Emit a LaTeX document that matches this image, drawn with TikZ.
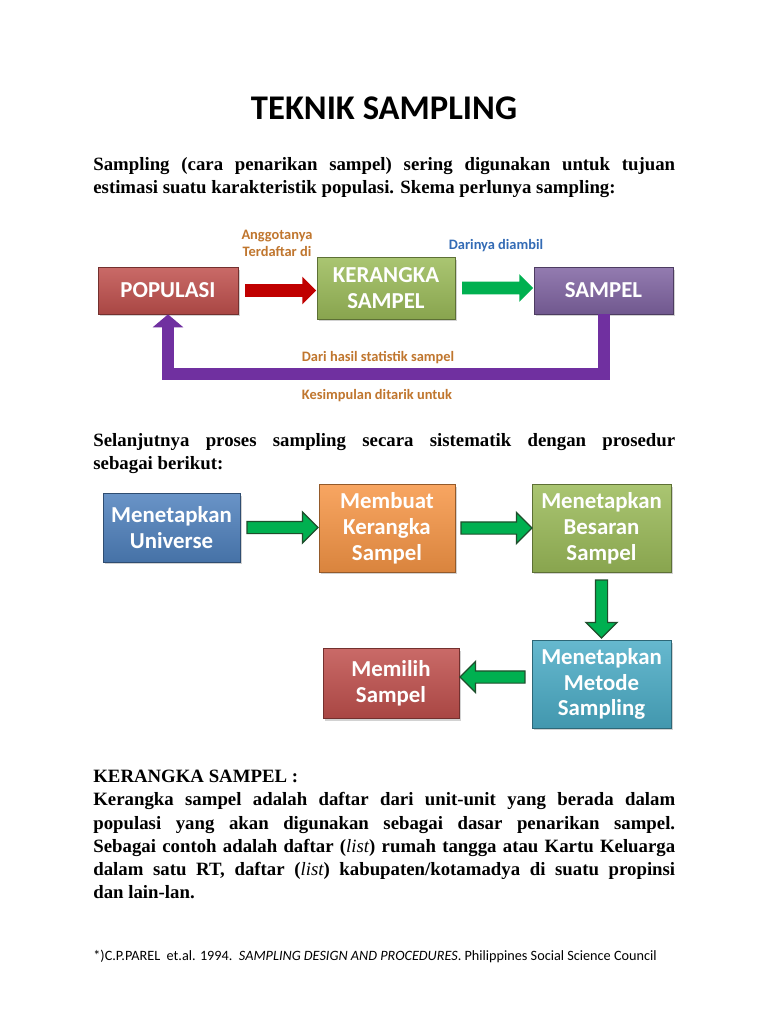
\documentclass[tikz,border=0pt]{standalone}
\usepackage{fontspec}
\setmainfont{Liberation Serif}
\newfontfamily\calibri{Carlito}
\usetikzlibrary{shapes.arrows,shadows,arrows.meta}

\definecolor{popred}{HTML}{C0504D}
\definecolor{kergreen}{HTML}{9BBB59}
\definecolor{sampurple}{HTML}{8064A2}
\definecolor{univblue}{HTML}{4F81BD}
\definecolor{kerorange}{HTML}{F79646}
\definecolor{metcyan}{HTML}{4BACC6}
\definecolor{arrred}{HTML}{C00000}
\definecolor{arrgreen}{HTML}{00B050}
\definecolor{arrline}{HTML}{1F4E2C}
\definecolor{fbpurple}{HTML}{7030A0}
\definecolor{lblbrown}{HTML}{C0762E}
\definecolor{lblblue}{HTML}{336BB5}

\newcommand\boxfont{\calibri\bfseries\fontsize{13}{14.7}\selectfont}
\newcommand\bodyfont{\bfseries\fontsize{10.7}{13.2}\selectfont\hyphenpenalty=10000\exhyphenpenalty=10000}

\tikzset{
  box/.style={rectangle, draw=#1!60!black, line width=0.4pt,
    top color=#1!85!white, bottom color=#1!88!black,
    text=white, align=center, inner sep=0pt, font=\boxfont,
    drop shadow={shadow xshift=0.04cm, shadow yshift=-0.05cm, opacity=0.35}},
  blkarrow/.style={single arrow, fill=#1, draw=none, inner xsep=0pt,
    inner ysep=0.12cm, single arrow head extend=0.15cm,
    minimum height=1.42cm, sloped, allow upside down},
  proarrow/.style={single arrow, fill=arrgreen, draw=arrline, line width=0.7pt,
    inner xsep=0pt, inner ysep=0.11cm, single arrow head extend=0.19cm,
    sloped, allow upside down},
  fback/.style={draw=fbpurple, line width=0.24cm, line join=miter,
    -{Triangle[width=0.6cm, length=0.26cm]}},
  lbl/.style={font=\calibri\bfseries\fontsize{8.2}{9.6}\selectfont,
    align=center, inner sep=0pt},
  para/.style={text width=11.64cm, align=justify, inner sep=0pt, font=\bodyfont},
}

\begin{document}
\begin{tikzpicture}[x=0.02cm, y=-0.02cm]
  \useasboundingbox (0,0) rectangle (768,1024);
  \fill[white] (0,0) rectangle (768,1024);

  % title and intro
  \node[font=\calibri\bfseries\fontsize{19.7}{23}\selectfont] (title) at (384,108) {TEKNIK SAMPLING};
  \node[para, anchor=north west] (intro) at (93,157)
    {Sampling (cara penarikan sampel) sering digunakan untuk tujuan\linebreak
     estimasi suatu karakteristik populasi. Skema perlunya sampling:};

  % first scheme
  \node[box=popred, minimum width=2.8cm, minimum height=0.94cm] (pop) at (168,290.5) {POPULASI};
  \node[box=kergreen, minimum width=2.76cm, minimum height=1.24cm] (ker) at (386,288) {KERANGKA\\SAMPEL};
  \node[box=sampurple, minimum width=2.78cm, minimum height=0.94cm] (sam) at (603.5,290.5) {SAMPEL};

  \path (pop.east) -- (pop.east -| ker.west) node[midway, blkarrow=arrred] (a1) {};
  \path (ker.east) -- (ker.east -| sam.west) node[midway, blkarrow=arrgreen] (a2) {};

  \coordinate (fb) at (0,374);
  \draw[fback] (sam.south) -- (sam.south |- fb) -| (pop.south);

  \node[lbl, text=lblbrown] (anggota) at (277,243.5) {Anggotanya\\Terdaftar di};
  \node[lbl, text=lblblue] (darinya) at (496,246) {Darinya diambil};
  \node[lbl, text=lblbrown] (hasil) at (378,358) {Dari hasil statistik sampel};
  \node[lbl, text=lblbrown] (simpul) at (377,396) {Kesimpulan ditarik untuk};

  % second text
  \node[para, anchor=north west] (lanjut) at (93,433)
    {Selanjutnya proses sampling secara sistematik dengan prosedur\linebreak
     sebagai berikut:};

  % procedure steps
  \node[box=univblue, minimum width=2.74cm, minimum height=1.38cm] (univ) at (171.5,527.5) {Menetapkan\\Universe};
  \node[box=kerorange, minimum width=2.72cm, minimum height=1.76cm] (buat) at (387,528) {Membuat\\Kerangka\\Sampel};
  \node[box=kergreen, minimum width=2.78cm, minimum height=1.76cm] (besar) at (601.5,528) {Menetapkan\\Besaran\\Sampel};
  \node[box=metcyan, minimum width=2.78cm, minimum height=1.76cm] (metode) at (601.5,684) {Menetapkan\\Metode\\Sampling};
  \node[box=popred, minimum width=2.72cm, minimum height=1.4cm] (pilih) at (391,683) {Memilih\\Sampel};

  \path (univ.east) -- (univ.east -| buat.west) node[midway, proarrow, minimum height=1.42cm] (s1) {};
  \path (buat.east) -- (buat.east -| besar.west) node[midway, proarrow, minimum height=1.42cm] (s2) {};
  \path (besar.south) -- (metode.north) node[midway, proarrow, minimum height=1.16cm] (s3) {};
  \path ([yshift=0.14cm]metode.west) -- ([yshift=0.14cm]metode.west -| pilih.east)
    node[midway, proarrow, minimum height=1.3cm] (s4) {};

  % definition
  \node[para, anchor=north west] (defn) at (93,770)
    {KERANGKA SAMPEL :\\
     Kerangka sampel adalah daftar dari unit-unit yang berada dalam\linebreak
     populasi yang akan digunakan sebagai dasar penarikan sampel.\linebreak
     Sebagai contoh adalah daftar ({\mdseries\itshape list}) rumah tangga atau Kartu Keluarga\linebreak
     dalam satu RT, daftar ({\mdseries\itshape list}) kabupaten/kotamadya di suatu propinsi\linebreak
     dan lain-lan.};

  \node[anchor=west, inner sep=0pt, font=\calibri\fontsize{8.1}{9.5}\selectfont] (ref) at (93,956)
    {*)C.P.PAREL\ \ et.al. 1994.\ \ \textit{SAMPLING DESIGN AND PROCEDURES}. Philippines Social Science Council};
\end{tikzpicture}
\end{document}
